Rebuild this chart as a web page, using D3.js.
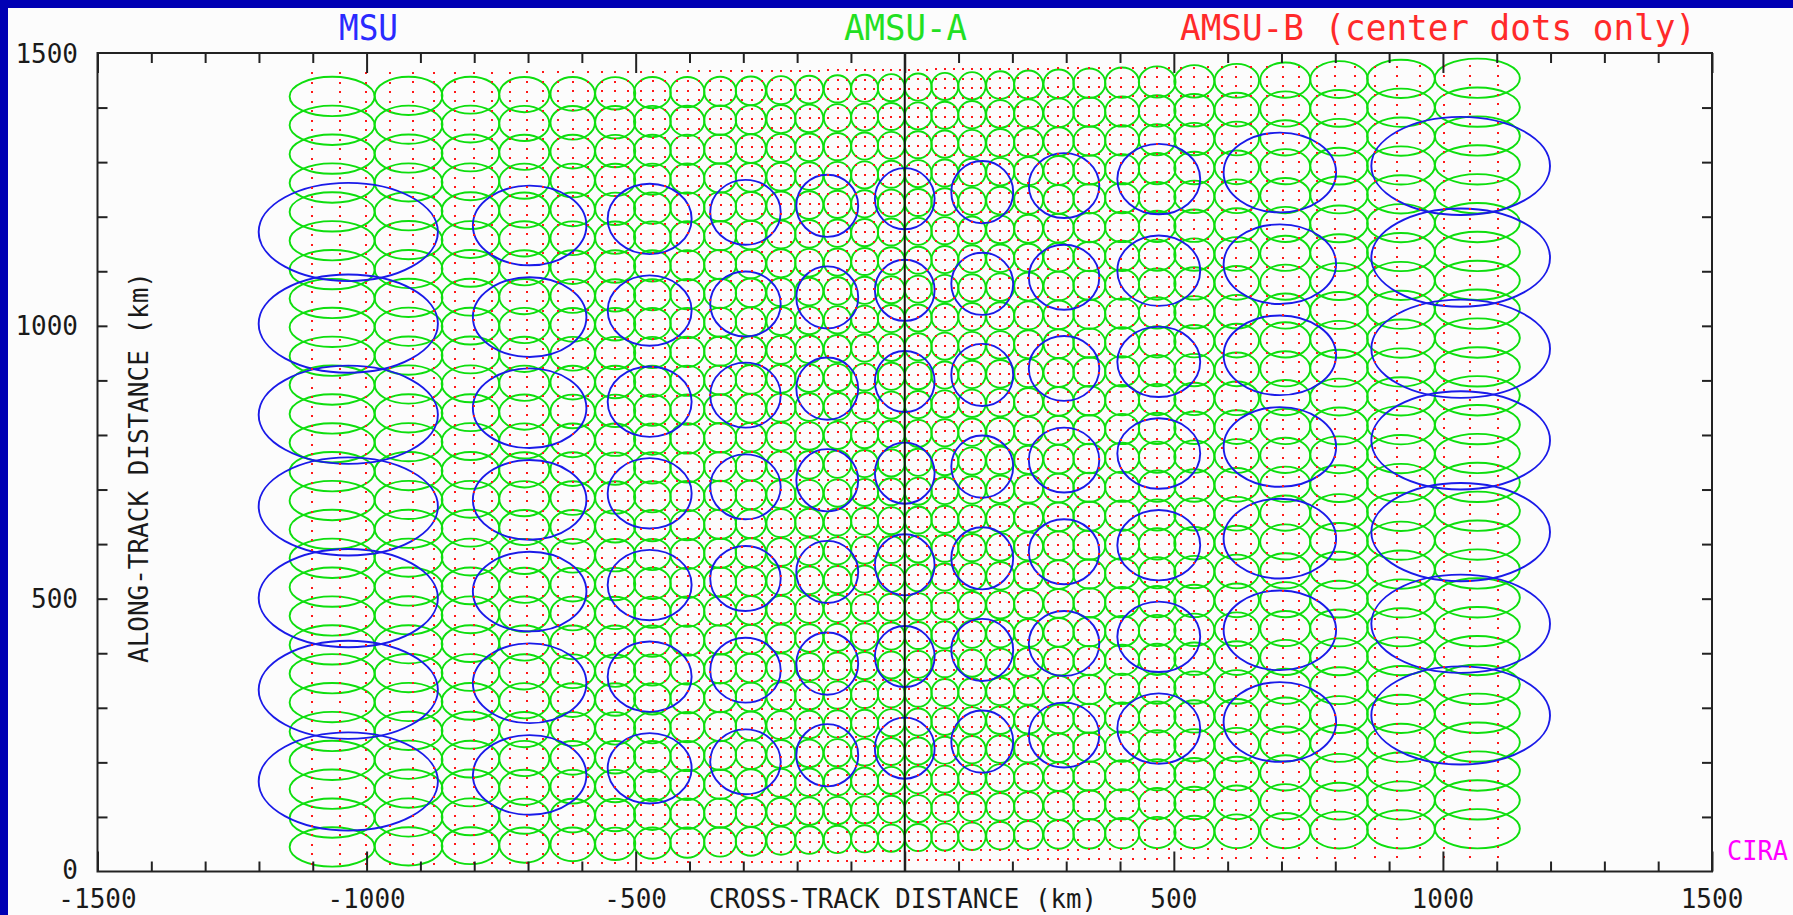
<!DOCTYPE html>
<html><head><meta charset="utf-8">
<script src="https://cdn.jsdelivr.net/npm/d3@7"></script>
<style>html,body{margin:0;padding:0;background:#0000b4;overflow:hidden}</style>
</head><body><svg id="chart"></svg>
<script>
// ---------------- DATA (km) ----------------
const xTickLabels = [-1500, -1000, -500, 500, 1000, 1500];
const xMajorTicks = [-1500, -1000, -500, 0, 500, 1000, 1500];
const yTickLabels = [0, 500, 1000, 1500];
const xMinorTicks = [-1400,-1300,-1200,-1100,-900,-800,-700,-600,-400,-300,-200,-100,100,200,300,400,600,700,800,900,1100,1200,1300,1400];
const yMinorTicks = [100,200,300,400,500,600,700,800,900,1000,1100,1200,1300,1400];

// MSU footprints (11 per scan line)
const msuX = [-1034, -697, -474, -296, -144, 0, 144, 296, 472, 697, 1033];
const msuW = [333, 211, 156, 131, 115, 111, 115, 131, 154, 209, 332];
const msuH = [180, 146, 129, 119, 114, 112, 114, 119, 129, 146, 180];
const msuSkew = [0, 12, 24, 36, 48, 61, 73, 85, 97, 109, 121];
const msuRows = [165, 333, 501, 669, 837, 1004, 1172];

// AMSU-A footprints (30 per scan line)
const amsuAX = [-1064, -922, -807, -707, -617, -538, -469, -404, -343, -286, -230, -177.5, -125, -74.5, -25,
                25, 74.5, 125, 177.5, 230, 286, 343, 404, 469, 538, 617, 707, 807, 922, 1064];
const amsuAW = [158, 126, 107, 93, 82.6, 74.5, 68.3, 63.3, 59.4, 56.3, 53.9, 52.2, 50.9, 50.0, 50.1,
                50.1, 50.0, 50.9, 52.2, 53.9, 56.3, 59.4, 63.3, 68.3, 74.5, 82.6, 93, 107, 126, 158];
const amsuAH = [72, 70, 67.5, 64.5, 61.8, 59.4, 57.3, 55.5, 54.0, 52.6, 51.5, 50.7, 50.1, 49.7, 49.6,
                49.6, 49.7, 50.1, 50.7, 51.5, 52.6, 54.0, 55.5, 57.3, 59.4, 61.8, 64.5, 67.5, 70, 72];
const amsuASkew = [0.0, 1.1, 2.3, 3.4, 4.6, 5.7, 6.9, 8.0, 9.2, 10.3, 11.5, 12.6, 13.8, 14.9, 16.1,
                   17.2, 18.4, 19.5, 20.7, 21.8, 23.0, 24.1, 25.3, 26.4, 27.6, 28.7, 29.9, 31.0, 32.2, 33.3];
const amsuARows = [45, 97.9, 150.8, 203.7, 256.6, 309.5, 362.4, 415.3, 468.2, 521.1, 574.0, 626.9, 679.8, 732.7,
                   785.6, 838.5, 891.4, 944.3, 997.2, 1050.1, 1103.0, 1155.9, 1208.8, 1261.7, 1314.6, 1367.5, 1420.4];

// AMSU-B footprint centres (90 per scan line)
const amsuBX = [-1102.3, -1050.3, -1001.9, -956.7, -914.2, -874.1, -836.3, -800.3, -766.1, -733.5, -702.3, -672.3, -643.6, -615.9, -589.2,
  -563.4, -538.4, -514.2, -490.7, -467.8, -445.5, -423.8, -402.6, -381.9, -361.6, -341.7, -322.1, -302.9, -284.1, -265.5,
  -247.2, -229.2, -211.3, -193.9, -176.4, -159.1, -141.9, -124.9, -108.0, -91.2, -74.5, -57.9, -41.3, -24.8, -8.3,
  8.3, 24.8, 41.3, 57.9, 74.5, 91.2, 108.0, 124.9, 141.9, 159.1, 176.4, 193.9, 211.3, 229.2, 247.2,
  265.5, 284.1, 302.9, 322.1, 341.7, 361.6, 381.9, 402.6, 423.8, 445.5, 467.8, 490.7, 514.2, 538.4, 563.4,
  589.2, 615.9, 643.6, 672.3, 702.3, 733.5, 766.1, 800.3, 836.3, 874.1, 914.2, 956.7, 1001.9, 1050.3, 1102.3];
const amsuBSkew = [0.0, 0.1, 0.3, 0.4, 0.6, 0.7, 0.9, 1.0, 1.2, 1.3, 1.4, 1.6, 1.7, 1.9, 2.0,
  2.2, 2.3, 2.4, 2.6, 2.7, 2.9, 3.0, 3.2, 3.3, 3.5, 3.6, 3.7, 3.9, 4.0, 4.2,
  4.3, 4.5, 4.6, 4.7, 4.9, 5.0, 5.2, 5.3, 5.5, 5.6, 5.8, 5.9, 6.0, 6.2, 6.3,
  6.5, 6.6, 6.8, 6.9, 7.0, 7.2, 7.3, 7.5, 7.6, 7.8, 7.9, 8.1, 8.2, 8.3, 8.5,
  8.6, 8.8, 8.9, 9.1, 9.2, 9.3, 9.5, 9.6, 9.8, 9.9, 10.1, 10.2, 10.4, 10.5, 10.6,
  10.8, 10.9, 11.1, 11.2, 11.4, 11.5, 11.6, 11.8, 11.9, 12.1, 12.2, 12.4, 12.5, 12.7, 12.8];
const amsuBRows = [13.7, 31.2, 48.6, 66.1, 83.5, 101.0, 118.5, 135.9, 153.4, 170.8, 188.3, 205.8, 223.2, 240.7, 258.1,
  275.6, 293.1, 310.5, 328.0, 345.4, 362.9, 380.4, 397.8, 415.3, 432.7, 450.2, 467.7, 485.1, 502.6, 520.0,
  537.5, 555.0, 572.4, 589.9, 607.3, 624.8, 642.3, 659.7, 677.2, 694.6, 712.1, 729.6, 747.0, 764.5, 781.9,
  799.4, 816.9, 834.3, 851.8, 869.2, 886.7, 904.2, 921.6, 939.1, 956.5, 974.0, 991.5, 1008.9, 1026.4, 1043.8,
  1061.3, 1078.8, 1096.2, 1113.7, 1131.1, 1148.6, 1166.1, 1183.5, 1201.0, 1218.4, 1235.9, 1253.4, 1270.8, 1288.3, 1305.7,
  1323.2, 1340.7, 1358.1, 1375.6, 1393.0, 1410.5, 1428.0, 1445.4, 1462.9];

// ---------------- DRAW ----------------
const W = 1793, H = 915;
const svg = d3.select('#chart').attr('width', W).attr('height', H);
svg.append('rect').attr('width', W).attr('height', H).attr('fill', '#0000b4');
svg.append('rect').attr('x', 8).attr('y', 8).attr('width', W - 8).attr('height', H - 8).attr('fill', '#fcfcfc');

const x = d3.scaleLinear().domain([-1500, 1500]).range([97.5, 1712]);
const y = d3.scaleLinear().domain([0, 1500]).range([871.5, 53]);
const FONT = "'DejaVu Sans Mono', monospace";
const TXT = '#1a1a1a';

const plot = svg.append('g');

// AMSU-A ellipses
const aCells = [];
amsuARows.forEach(r => amsuAX.forEach((cx, c) => aCells.push({
  cx: x(cx), cy: y(r + amsuASkew[c]),
  rx: x(cx + amsuAW[c] / 2) - x(cx), ry: y(0) - y(amsuAH[c] / 2)})));
plot.append('g').selectAll('ellipse').data(aCells).join('ellipse')
  .attr('cx', d => d.cx).attr('cy', d => d.cy).attr('rx', d => d.rx).attr('ry', d => d.ry)
  .attr('fill', 'none').attr('stroke', '#0ede0e').attr('stroke-width', 1.9);

// MSU ellipses
const mCells = [];
msuRows.forEach(r => msuX.forEach((cx, c) => mCells.push({
  cx: x(cx), cy: y(r + msuSkew[c]),
  rx: x(cx + msuW[c] / 2) - x(cx), ry: y(0) - y(msuH[c] / 2)})));
plot.append('g').selectAll('ellipse').data(mCells).join('ellipse')
  .attr('cx', d => d.cx).attr('cy', d => d.cy).attr('rx', d => d.rx).attr('ry', d => d.ry)
  .attr('fill', 'none').attr('stroke', '#1a1ae8').attr('stroke-width', 1.9);

// centre line
plot.append('line').attr('x1', x(0)).attr('x2', x(0)).attr('y1', y(1500)).attr('y2', y(0))
  .attr('stroke', '#111').attr('stroke-width', 2);

// AMSU-B dots
const bCells = [];
amsuBRows.forEach(r => amsuBX.forEach((cx, c) => bCells.push({cx: x(cx), cy: y(r + amsuBSkew[c])})));
plot.append('g').attr('shape-rendering', 'crispEdges').selectAll('rect').data(bCells).join('rect')
  .attr('x', d => Math.round(d.cx) - 1).attr('y', d => Math.round(d.cy) - 1).attr('width', 2).attr('height', 2)
  .attr('fill', '#ff1a1a');

// frame and ticks
svg.append('rect').attr('x', x(-1500)).attr('y', y(1500)).attr('width', x(1500) - x(-1500)).attr('height', y(0) - y(1500))
  .attr('fill', 'none').attr('stroke', '#222').attr('stroke-width', 2);

function styleAxis(g) { g.select('.domain').remove(); g.selectAll('line').attr('stroke', '#222').attr('stroke-width', 2); }
svg.append('g').attr('transform', `translate(0,${y(0)})`).call(d3.axisBottom(x).tickValues(xMinorTicks).tickSize(-10).tickFormat('')).call(styleAxis);
svg.append('g').attr('transform', `translate(0,${y(0)})`).call(d3.axisBottom(x).tickValues(xMajorTicks).tickSize(-20).tickFormat('')).call(styleAxis);
svg.append('g').attr('transform', `translate(0,${y(1500)})`).call(d3.axisTop(x).tickValues(xMinorTicks).tickSize(-10).tickFormat('')).call(styleAxis);
svg.append('g').attr('transform', `translate(0,${y(1500)})`).call(d3.axisTop(x).tickValues(xMajorTicks).tickSize(-20).tickFormat('')).call(styleAxis);
svg.append('g').attr('transform', `translate(${x(-1500)},0)`).call(d3.axisLeft(y).tickValues(yMinorTicks).tickSize(-10).tickFormat('')).call(styleAxis);
svg.append('g').attr('transform', `translate(${x(1500)},0)`).call(d3.axisRight(y).tickValues(yMinorTicks).tickSize(-10).tickFormat('')).call(styleAxis);

// tick labels
svg.append('g').selectAll('text').data(xTickLabels).join('text')
  .attr('x', d => x(d)).attr('y', 908).attr('text-anchor', 'middle')
  .attr('font-family', FONT).attr('font-size', 26).attr('fill', TXT).text(d => d);
svg.append('g').selectAll('text').data(yTickLabels).join('text')
  .attr('x', 78).attr('y', d => d === 0 ? y(d) + 7 : y(d) + 9.5).attr('text-anchor', 'end')
  .attr('font-family', FONT).attr('font-size', 26).attr('fill', TXT).text(d => d);

// axis titles
svg.append('text').attr('x', 903).attr('y', 908).attr('text-anchor', 'middle')
  .attr('font-family', FONT).attr('font-size', 26).attr('fill', TXT)
  .attr('textLength', 388).attr('lengthAdjust', 'spacingAndGlyphs').text('CROSS-TRACK DISTANCE (km)');
svg.append('text').attr('transform', 'translate(148,467.5) rotate(-90)').attr('text-anchor', 'middle')
  .attr('font-family', FONT).attr('font-size', 26).attr('fill', TXT)
  .attr('textLength', 391).attr('lengthAdjust', 'spacingAndGlyphs').text('ALONG-TRACK DISTANCE (km)');

// instrument titles
const titles = [
  {t: 'MSU', x: 339, len: 59, c: '#2a2aff'},
  {t: 'AMSU-A', x: 844, len: 123, c: '#22e022'},
  {t: 'AMSU-B (center dots only)', x: 1180, len: 516, c: '#ff2a2a'}];
svg.append('g').selectAll('text').data(titles).join('text')
  .attr('x', d => d.x).attr('y', 39.5).attr('font-family', FONT).attr('font-size', 35)
  .attr('fill', d => d.c).attr('textLength', d => d.len).attr('lengthAdjust', 'spacingAndGlyphs').text(d => d.t);

svg.append('text').attr('x', 1727).attr('y', 860).attr('font-family', FONT).attr('font-size', 26)
  .attr('fill', '#ff00ff').attr('textLength', 61).attr('lengthAdjust', 'spacingAndGlyphs').text('CIRA');
</script></body></html>
